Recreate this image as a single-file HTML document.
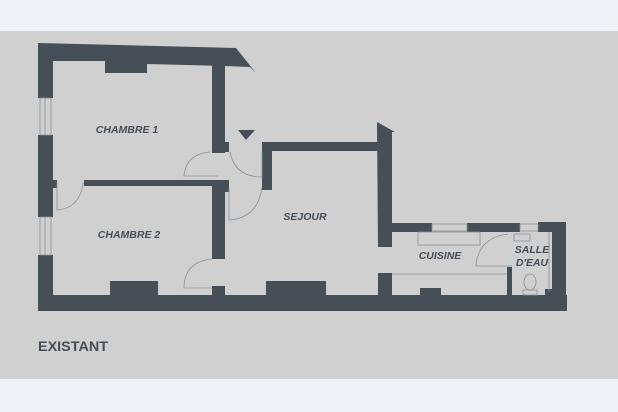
<!DOCTYPE html>
<html><head><meta charset="utf-8"><style>
html,body{margin:0;padding:0;width:618px;height:412px;background:#eff2f6;overflow:hidden}
svg{display:block}
</style></head><body>
<svg width="618" height="412" viewBox="0 0 618 412" xmlns="http://www.w3.org/2000/svg">
<rect x="0" y="31" width="618" height="348" fill="#d0d0d0"/>
<g fill="#464e57">
<polygon points="38,43 236,48 256,73 250,67 225,66 147,64 147,73 105,73 105,61 53,61 53,98 38,98"/>
<rect x="38" y="135" width="15" height="82"/>
<rect x="38" y="255" width="15" height="56"/>
<rect x="53" y="180" width="4" height="8"/>
<rect x="212" y="64" width="13" height="89"/>
<rect x="225" y="142" width="4" height="10"/>
<rect x="84" y="180" width="141" height="6"/>
<rect x="212" y="180" width="13" height="79"/>
<rect x="225" y="180" width="4" height="12"/>
<rect x="262" y="142" width="130" height="9"/>
<rect x="262" y="142" width="10" height="48"/>
<polygon points="377,122 395,132 392,132 392,247 378,247"/>
<rect x="392" y="223" width="40" height="9"/>
<rect x="467" y="223" width="53" height="9"/>
<rect x="538" y="222" width="28" height="10"/>
<rect x="552" y="222" width="14" height="89"/>
<rect x="378" y="273" width="14" height="30"/>
<rect x="38" y="295" width="529" height="16"/>
<rect x="110" y="281" width="48" height="15"/>
<rect x="212" y="286" width="13" height="10"/>
<rect x="266" y="281" width="60" height="15"/>
<rect x="420" y="288" width="21" height="8"/>
<rect x="507" y="267" width="5" height="29"/>
<rect x="545" y="289" width="8" height="7"/>
<polygon points="238,130 255,130 246,140"/>
</g>
<g fill="none" stroke="#8a8f95" stroke-width="0.8">
<rect x="40" y="98" width="11" height="37"/>
<line x1="45" y1="98" x2="45" y2="135"/>
<rect x="40" y="217" width="11" height="38"/>
<line x1="45" y1="217" x2="45" y2="255"/>
<rect x="432" y="224" width="35" height="7"/>
<rect x="520" y="224" width="18" height="7"/>
<path d="M83,183 Q80,208 57,210 L57,183"/>
<path d="M210,152 Q186,154 184,176 L218,176"/>
<path d="M230,152 Q235,177 262,177 L262,152"/>
<path d="M262,187 Q258,218 229,220 L229,187"/>
<path d="M212,259 Q184,262 184,288 L212,288"/>
<path d="M508,234 Q478,238 476,266 L512,266"/>
<rect x="418" y="232" width="62" height="13"/>
<line x1="392" y1="274" x2="507" y2="274"/>
<rect x="514" y="234" width="16" height="7"/>
<ellipse cx="530" cy="282" rx="6" ry="8"/>
<rect x="523" y="290" width="14" height="5"/>
<line x1="549" y1="232" x2="549" y2="292"/>
</g>
<g font-family="Liberation Sans, sans-serif" font-weight="bold" font-style="italic" font-size="10.5" fill="#454d56" text-anchor="middle">
<text x="127" y="133">CHAMBRE 1</text>
<text x="129" y="238">CHAMBRE 2</text>
<text x="305" y="220">SEJOUR</text>
<text x="440" y="259">CUISINE</text>
<text x="532" y="253">SALLE</text>
<text x="532" y="266">D'EAU</text>
</g>
<text x="38" y="351" font-family="Liberation Sans, sans-serif" font-weight="bold" font-size="14" fill="#454d56" textLength="70" lengthAdjust="spacingAndGlyphs">EXISTANT</text>
</svg>
</body></html>
